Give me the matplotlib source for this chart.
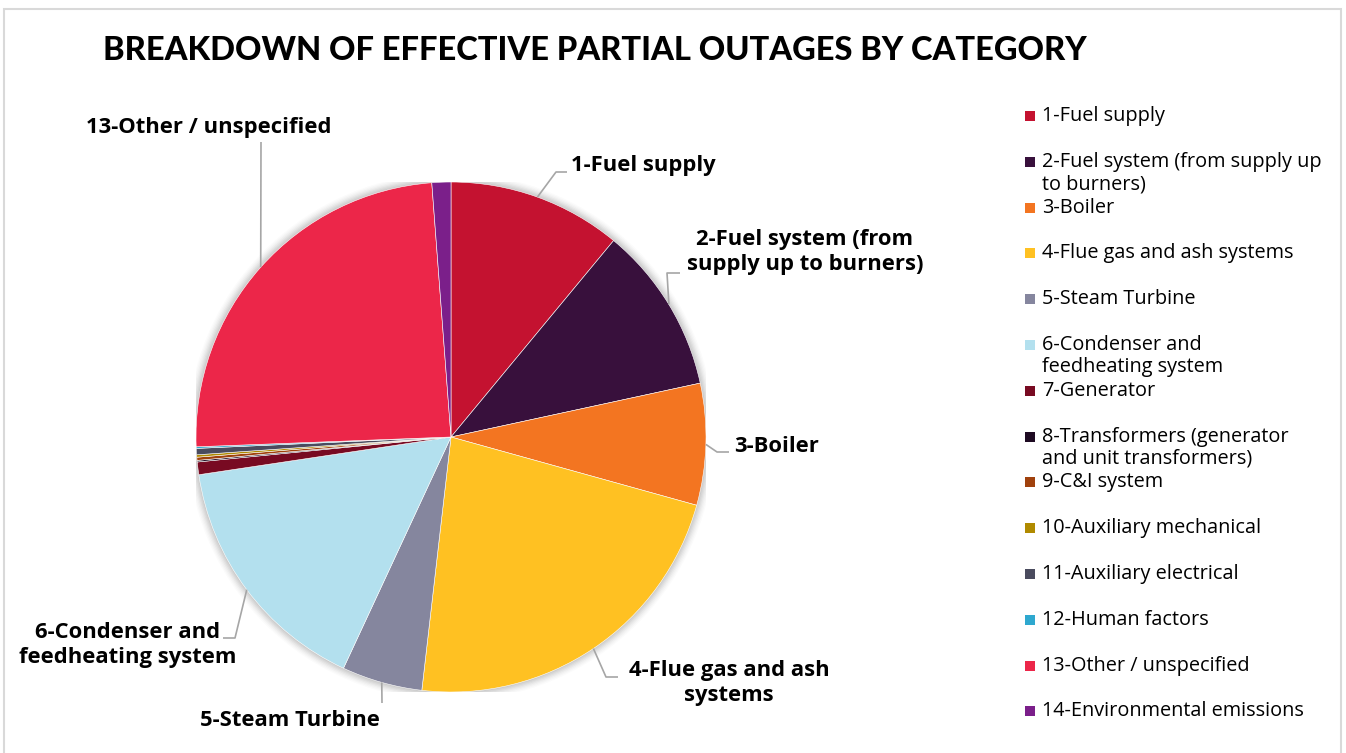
import matplotlib
matplotlib.use("Agg")
import matplotlib.pyplot as plt
from matplotlib.patches import Rectangle
import numpy as np

categories = [
    "1-Fuel supply",
    "2-Fuel system (from supply up to burners)",
    "3-Boiler",
    "4-Flue gas and ash systems",
    "5-Steam Turbine",
    "6-Condenser and feedheating system",
    "7-Generator",
    "8-Transformers (generator and unit transformers)",
    "9-C&I system",
    "10-Auxiliary mechanical",
    "11-Auxiliary electrical",
    "12-Human factors",
    "13-Other / unspecified",
    "14-Environmental emissions",
]
values = [11.0, 10.6, 7.7, 22.5, 5.1, 15.7, 0.8, 0.1, 0.2, 0.15, 0.4, 0.1, 24.4, 1.2]
colors = ["#C41230", "#38103C", "#F37521", "#FFC122", "#85869E", "#B3E0EE",
          "#780A22", "#1E0A22", "#A0410D", "#B08A00", "#4A4B5E", "#2EA8CF",
          "#EC2649", "#7B1F8A"]
legend_labels = [
    "1-Fuel supply",
    "2-Fuel system (from supply up\nto burners)",
    "3-Boiler",
    "4-Flue gas and ash systems",
    "5-Steam Turbine",
    "6-Condenser and\nfeedheating system",
    "7-Generator",
    "8-Transformers (generator\nand unit transformers)",
    "9-C&I system",
    "10-Auxiliary mechanical",
    "11-Auxiliary electrical",
    "12-Human factors",
    "13-Other / unspecified",
    "14-Environmental emissions",
]
title = "BREAKDOWN OF EFFECTIVE PARTIAL OUTAGES BY CATEGORY"

W, H = 1346, 753
fig = plt.figure(figsize=(W / 100, H / 100), dpi=100)
fig.patch.set_facecolor("white")

# frame
fig.add_artist(Rectangle((4 / W, -0.01), (1341 - 4) / W, 1 - 9 / H + 0.01,
                         transform=fig.transFigure, fill=False,
                         edgecolor="#D9D9D9", lw=1.5))

cx, cy, r = 451, 437, 255
ax = fig.add_axes([(cx - r) / W, (H - cy - r) / H, 2 * r / W, 2 * r / H])
ax.set_aspect("equal")

# soft shadow
for k, a in zip(np.linspace(1.035, 1.0, 8), np.linspace(0.015, 0.05, 8)):
    ax.add_patch(plt.Circle((0.0, -0.0), k, color="black", alpha=a, lw=0, zorder=0))

wedges, _ = ax.pie(values, colors=colors, startangle=90, counterclock=False, radius=1,
                   wedgeprops=dict(edgecolor="white", linewidth=0.4))
ax.set_xlim(-1, 1)
ax.set_ylim(-1, 1)
ax.axis("off")


def P(px, py):
    return ((px - cx) / r, (cy - py) / r)


def edge(i):
    w = wedges[i]
    th = np.deg2rad((w.theta1 + w.theta2) / 2)
    return (np.cos(th), np.sin(th))


label_font = dict(fontfamily="Open Sans", fontweight="bold", fontsize=15.8, color="black")
lc = "#A6A6A6"

labels = [
    (0, "1-Fuel supply", (571, 166), "left", [(556, 172), (567, 172)]),
    (1, "2-Fuel system (from\nsupply up to burners)", (805, 252), "center", [(667, 273), (680, 273)]),
    (2, "3-Boiler", (734, 446), "left", [(717, 452), (729, 452)]),
    (3, "4-Flue gas and ash\nsystems", (729, 683), "center", [(606, 677), (618, 677)]),
    (4, "5-Steam Turbine", (290, 720), "center", [(382, 703)]),
    (5, "6-Condenser and\nfeedheating system", (128, 645), "center", [(235, 638), (223, 638)]),
    (12, "13-Other / unspecified", (209, 128), "center", [(261, 142)]),
]
for i, txt, tp, ha, path in labels:
    e = edge(i)
    pts = [e] + [P(*p) for p in path]
    xs, ys = zip(*pts)
    ax.plot(xs, ys, color=lc, lw=1.2, clip_on=False, solid_capstyle="butt")
    tx, ty = P(*tp)
    ax.text(tx, ty, txt, ha=ha, va="center", multialignment="center",
            linespacing=1.2, clip_on=False, **label_font)

# title
fig.text(103 / W, 1 - 51 / H, title, ha="left", va="center",
         fontfamily="Lato", fontweight="black", fontsize=23.5, color="black")

# legend (manual, fixed spacing)
y0 = 116
dy = 45.8
for k, (lab, col) in enumerate(zip(legend_labels, colors)):
    y = y0 + k * dy
    fig.add_artist(Rectangle((1025 / W, 1 - (y + 5) / H), 10 / W, 10 / H,
                             transform=fig.transFigure, facecolor=col, edgecolor="none"))
    fig.text(1042 / W, 1 - (y - 10) / H, lab, ha="left", va="top",
             fontfamily="Open Sans", fontsize=14.3, color="black", linespacing=1.15)

fig.savefig("out.png", dpi=100, facecolor="white")
